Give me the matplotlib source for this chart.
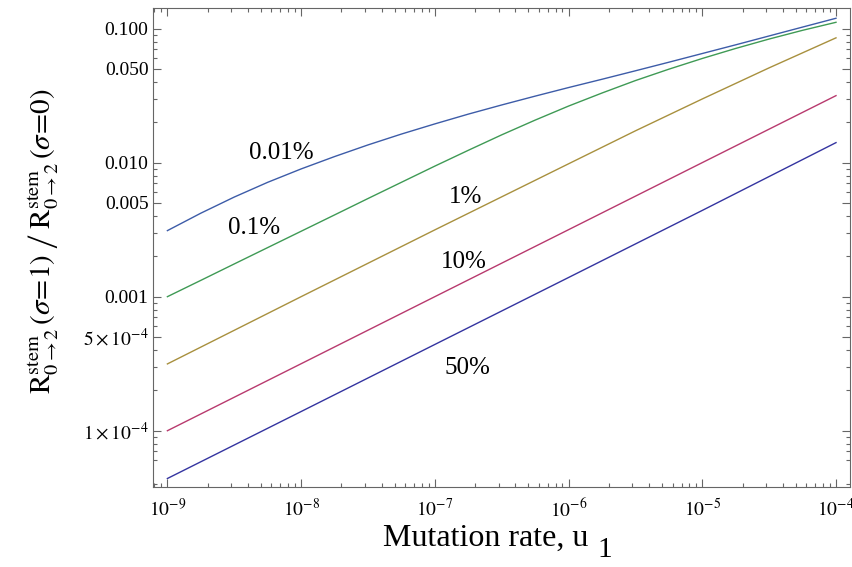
import numpy as np
import matplotlib
matplotlib.use("Agg")
import matplotlib.pyplot as plt
from matplotlib.ticker import FixedLocator, FixedFormatter, LogLocator, NullFormatter

# mutation rate u1 (x) and ratio values
u_curve = [1e-9, 1.78e-9, 3.16e-9, 5.62e-9, 1e-8, 1.78e-8, 3.16e-8, 5.62e-8,
           1e-7, 1.78e-7, 3.16e-7, 5.62e-7, 1e-6, 1.78e-6, 3.16e-6, 5.62e-6,
           1e-5, 1.78e-5, 3.16e-5, 5.62e-5, 1e-4]
ratio_001 = [3.11e-3, 4.198e-3, 5.534e-3, 7.129e-3, 8.974e-3, 0.01110, 0.01355, 0.01633,
             0.01945, 0.02301, 0.02692, 0.03133, 0.03631, 0.04188, 0.04842, 0.05610,
             0.06516, 0.07568, 0.08810, 0.1026, 0.1194]
ratio_01 = [1.0e-3, 1.324e-3, 1.754e-3, 2.323e-3, 3.076e-3, 4.074e-3, 5.395e-3, 7.129e-3,
            9.419e-3, 0.01236, 0.01611, 0.02075, 0.02642, 0.03307, 0.04093, 0.04977,
            0.05984, 0.07112, 0.08356, 0.09705, 0.1114]

u_gold = [1e-9, 1e-8, 1e-7, 1e-6, 3.16e-6, 1e-5, 3.16e-5, 1e-4]
ratio_1 = [3.15e-4, 1.0e-3, 3.15e-3, 9.8e-3, 0.01726, 0.02985, 0.05093, 0.0853]

u_dec = [1e-9, 1e-8, 1e-7, 1e-6, 1e-5, 1e-4]
ratio_10 = [1.0e-4, 3.16e-4, 1.0e-3, 3.16e-3, 0.01, 0.0316]
ratio_50 = [4.4e-5, 1.39e-4, 4.4e-4, 1.39e-3, 4.4e-3, 0.0141]

labels = ["0.01%", "0.1%", "1%", "10%", "50%"]
label_u = [7.05e-9, 4.42e-9, 1.71e-7, 1.64e-7, 1.75e-7]
label_v = [0.01175, 3.24e-3, 5.55e-3, 1.82e-3, 2.92e-4]

y_ticks = [1e-4, 5e-4, 1e-3, 5e-3, 0.01, 0.05, 0.1]
y_ticklabels = [r"$1\times10^{-4}$", r"$5\times10^{-4}$", "0.001", "0.005", "0.010", "0.050", "0.100"]

colors = ["#3d5ca8", "#3f9a55", "#a8903e", "#b83a6e", "#3434a0"]

plt.rcParams["font.family"] = ["Liberation Serif", "DejaVu Serif"]
plt.rcParams["mathtext.fontset"] = "stix"

fig = plt.figure(figsize=(8.52, 5.67), dpi=100)
ax = fig.add_axes([0.180, 0.1406, 0.8177, 0.8454])

ax.plot(u_curve, ratio_001, color=colors[0], lw=1.0)
ax.plot(u_curve, ratio_01, color=colors[1], lw=1.0)
ax.plot(u_gold, ratio_1, color=colors[2], lw=1.0)
ax.plot(u_dec, ratio_10, color=colors[3], lw=1.0)
ax.plot(u_dec, ratio_50, color=colors[4], lw=1.0)

for t, xu, yv in zip(labels, label_u, label_v):
    ax.text(xu, yv, t, fontsize=18, ha="center", va="center")

ax.set_xscale("log")
ax.set_yscale("log")
ax.set_xlim(10 ** -9.105, 10 ** -3.895)
ax.set_ylim(10 ** -4.422, 10 ** -0.846)

ax.xaxis.set_major_locator(FixedLocator([1e-9, 1e-8, 1e-7, 1e-6, 1e-5, 1e-4]))
ax.xaxis.set_major_formatter(FixedFormatter([r"$10^{-9}$", r"$10^{-8}$", r"$10^{-7}$",
                                             r"$10^{-6}$", r"$10^{-5}$", r"$10^{-4}$"]))
ax.xaxis.set_minor_locator(LogLocator(base=10, subs=np.arange(2, 10)))
ax.xaxis.set_minor_formatter(NullFormatter())

ax.yaxis.set_major_locator(FixedLocator(y_ticks))
ax.yaxis.set_major_formatter(FixedFormatter(y_ticklabels))
ax.yaxis.set_minor_locator(LogLocator(base=10, subs=[2, 3, 4, 6, 7, 8, 9]))
ax.yaxis.set_minor_formatter(NullFormatter())

ax.tick_params(which="both", direction="in", top=True, right=True, color="#666666",
               labelsize=14, width=0.8)
ax.tick_params(which="major", length=6)
ax.tick_params(which="minor", length=3)
ax.tick_params(axis="x", pad=8)
for s in ax.spines.values():
    s.set_color("#666666")
    s.set_linewidth(0.8)

fig.text(0.570, 0.050, "Mutation rate, u", fontsize=23, ha="center", va="center")
fig.text(0.710, 0.030, "1", fontsize=21, ha="center", va="center")

fig.text(0.052, 0.575,
         r"$\mathrm{R}_{0\rightarrow2}^{\mathrm{stem}}\,(\sigma\!=\!1)\;\left/\;"
         r"\mathrm{R}_{0\rightarrow2}^{\mathrm{stem}}\,(\sigma\!=\!0)\right.$",
         fontsize=21, rotation=90, ha="center", va="center")

fig.savefig("out.png", dpi=100)
